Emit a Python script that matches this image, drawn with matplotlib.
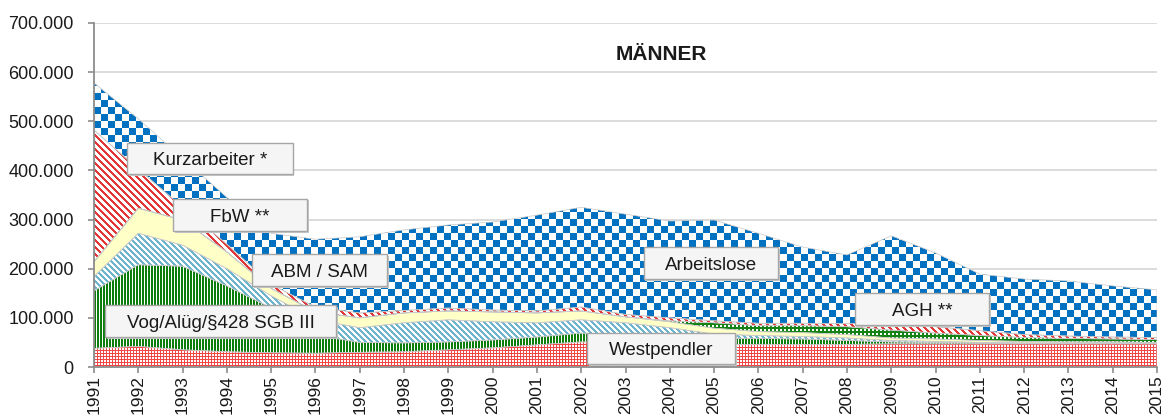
import numpy as np
import matplotlib
matplotlib.use("Agg")
import matplotlib.pyplot as plt
from matplotlib.patches import Rectangle
from matplotlib.ticker import FuncFormatter, MultipleLocator

# ---------------- data (thousands of persons) ----------------
years = list(range(1991, 2016))
westpendler = [38, 42, 35, 31, 29, 28, 30, 31, 35, 39, 45, 51, 50, 48, 46, 46, 46, 46, 47, 47, 47, 47, 47, 47, 47]
vog = [117, 166, 170, 134, 91, 37, 20, 18, 16, 16, 16, 18, 16, 15, 13, 12, 11, 8, 4, 3, 2, 1, 1, 1, 1]
abm_sam = [29, 64, 43, 35, 25, 31, 30, 41, 45, 37, 29, 27, 24, 17, 8, 6, 5, 5, 3, 2, 1, 1, 1, 1, 1]
fbw = [30, 51, 51, 34, 15, 16, 20, 20, 18, 20, 20, 18, 12, 12, 12, 8, 8, 7, 5, 5, 4, 3, 2, 2, 1]
agh = [0, 0, 0, 0, 0, 0, 0, 0, 0, 0, 0, 0, 0, 2, 11, 12, 14, 16, 16, 12, 10, 8, 7, 6, 6]
kurzarbeiter = [268, 80, 26, 16, 8, 10, 10, 5, 6, 4, 4, 8, 5, 6, 4, 5, 5, 6, 15, 13, 10, 6, 5, 4, 4]
arbeitslose = [96, 102, 100, 95, 104, 138, 155, 164, 169, 179, 195, 203, 204, 197, 205, 183, 155, 140, 177, 150, 115, 113, 112, 104, 97]

series_labels = ["Westpendler", "Vog/Alüg/§428 SGB III", "ABM / SAM", "FbW **",
                 "AGH **", "Kurzarbeiter *", "Arbeitslose"]
title = "MÄNNER"

plt.rcParams["font.family"] = ["Liberation Sans", "DejaVu Sans"]

FW, FH = 1168, 416
fig = plt.figure(figsize=(FW / 100, FH / 100), dpi=100)
L, R, B, T = 94 / FW, 1157 / FW, 1 - 367 / FH, 1 - 23 / FH
ax = fig.add_axes([L, B, R - L, T - B])

# ---------------- textures (one texel = one output pixel) ----------------
W = int(round((R - L) * FW))
H = int(round((T - B) * FH))
yy, xx = np.mgrid[0:H, 0:W]


def two_tone(mask, col, bg=(255, 255, 255)):
    img = np.empty((H, W, 3))
    img[:] = np.array(bg) / 255.0
    img[mask] = np.array(col) / 255.0
    return img


tex_west = two_tone((xx % 3 == 0) | (yy % 3 == 0), (240, 70, 70))
tex_vog = two_tone(xx % 3 != 2, (10, 125, 10))
tex_abm = two_tone((xx - yy) % 6 < 3, (110, 180, 205))
tex_fbw = two_tone(np.zeros((H, W), bool), (0, 0, 0), bg=(255, 255, 200))
tex_agh = two_tone(~((xx % 4 >= 2) & (yy % 4 >= 2)), (20, 130, 20))
tex_kurz = two_tone((xx - yy) % 7 < 3, (225, 55, 55))
tex_arb = two_tone(((xx // 7) + (yy // 7)) % 2 == 0, (0, 112, 192))
textures = [tex_west, tex_vog, tex_abm, tex_fbw, tex_agh, tex_kurz, tex_arb]

x = np.array(years)
layers = np.array([westpendler, vog, abm_sam, fbw, agh, kurzarbeiter, arbeitslose], float) * 1000
tops = np.cumsum(layers, axis=0)
YMAX = 700000

for i, tex in enumerate(textures):
    base = tops[i - 1] if i > 0 else np.zeros_like(x, float)
    poly = ax.fill_between(x, base, tops[i], facecolor="none", edgecolor="#c8c8c8",
                           linewidth=0.5, zorder=3)
    im = ax.imshow(tex, extent=(1991, 2015, 0, YMAX), origin="upper", aspect="auto",
                   interpolation="none", resample=False, zorder=2)
    im.set_clip_path(poly.get_paths()[0], transform=ax.transData)

ax.set_xlim(1991, 2015)
ax.set_ylim(0, YMAX)

# ---------------- axes styling ----------------
ax.yaxis.set_major_locator(MultipleLocator(100000))
ax.yaxis.set_major_formatter(FuncFormatter(lambda v, p: f"{v:,.0f}".replace(",", ".")))
ax.set_xticks(years)
ax.set_xticklabels([str(y) for y in years], rotation=90)
ax.grid(axis="y", color="#d9d9d9", linewidth=1.3, zorder=0)
ax.set_axisbelow(True)
for s in ["top", "right"]:
    ax.spines[s].set_visible(False)
for s in ["left", "bottom"]:
    ax.spines[s].set_color("#8c8c8c")
    ax.spines[s].set_linewidth(1.3)
    ax.spines[s].set_zorder(5)
ax.tick_params(axis="y", length=4.5, width=1.2, color="#8c8c8c", pad=10,
               labelsize=13, labelcolor="#1a1a1a")
ax.tick_params(axis="x", length=4.5, width=1.2, color="#8c8c8c", pad=1.5,
               labelsize=12.5, labelcolor="#1a1a1a")

# ---------------- title & label boxes ----------------
def px(xp, yp):
    return xp / FW, 1 - yp / FH


tx, ty = px(661.5, 59.5)
fig.text(tx, ty, title, ha="center", va="baseline", fontsize=15, fontweight="bold",
         color="#1a1a1a")

boxes = [  # label, x0, y0, x1, y1 (pixels)
    (series_labels[5], 127, 143, 293, 174),
    (series_labels[3], 173, 199, 307, 231),
    (series_labels[2], 252, 254, 387, 286),
    (series_labels[1], 105, 305, 336, 337),
    (series_labels[6], 644, 247, 778, 279),
    (series_labels[0], 587, 333, 735, 364),
    (series_labels[4], 855, 293, 989, 325),
]
for lab, x0, y0, x1, y1 in boxes:
    fx0, fy1 = px(x0, y0)
    fx1, fy0 = px(x1, y1)
    sx, sy = 1.5 / FW, 1.5 / FH
    fig.patches.append(Rectangle((fx0 + sx, fy0 - sy), fx1 - fx0, fy1 - fy0,
                                 transform=fig.transFigure, facecolor="#c8c8c8",
                                 edgecolor="none", zorder=10))
    fig.patches.append(Rectangle((fx0, fy0), fx1 - fx0, fy1 - fy0,
                                 transform=fig.transFigure, facecolor="#f5f5f5",
                                 edgecolor="#a6a6a6", linewidth=1.0, zorder=11))
    bx, by = px((x0 + x1) / 2, y1 - 9)
    fig.text(bx, by, lab, ha="center", va="baseline", fontsize=13.5, color="#1a1a1a",
             zorder=12)

fig.savefig("out.png", dpi=100)
